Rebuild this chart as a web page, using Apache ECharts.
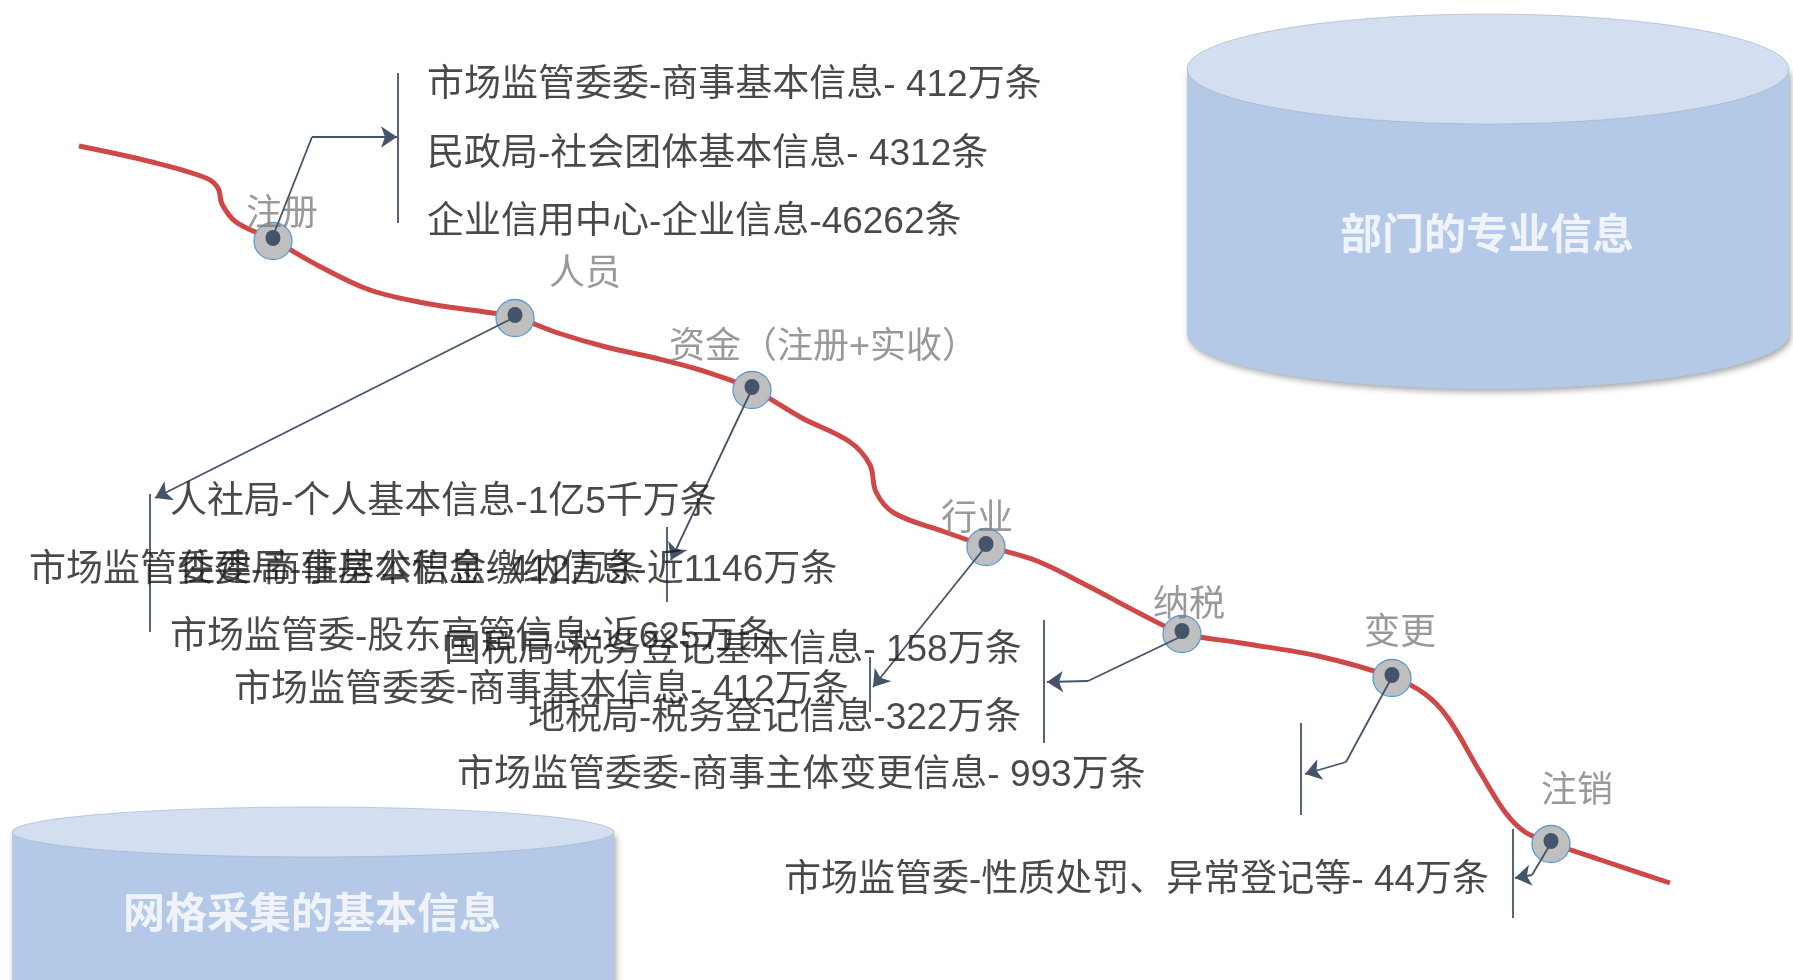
<!DOCTYPE html>
<html>
<head>
<meta charset="utf-8">
<script src="https://cdn.jsdelivr.net/npm/echarts@6/dist/echarts.min.js"></script>
<style>
html,body{margin:0;padding:0;background:#fff;}
#main{width:1793px;height:980px;}
</style>
</head>
<body>
<div id="main"></div>
<script>
// Red flow curve (diagram coordinates)
var curvePoints = [[79,146],[152,162],[206,178],[218,188],[222,204],[236,222],[273,240],[321,267],[370,290],[424,303],[485,312],[515,317],[558,333],[606,347],[655,358],[700,370],[752,389],[802,418],[850,442],[870,465],[876,492],[894,513],[945,532],[986,546],[1037,561],[1088,586],[1139,613],[1182,633],[1241,643],[1318,656],[1392,677],[1425,694],[1448,718],[1480,772],[1505,812],[1525,832],[1551,843],[1601,860],[1670,883]];

// Stage nodes on the curve
var nodeNames = ['注册','人员','资金（注册+实收）','行业','纳税','变更','注销'];
var nodePoints = [[273,238],[515,315],[752,387],[986,544],[1182,631],[1392,675],[1551,841]];
var nodeLabelPoints = [[246,215],[549,275],[669,348],[941,520],[1153,606],[1364,634],[1541,792]];

// Arrows from nodes to info blocks
var arrowPaths = [
  [[273,236],[312,137],[397,137]],
  [[515,317],[155,498]],
  [[752,389],[671,560]],
  [[986,546],[873,687]],
  [[1182,636],[1088,681],[1047,682]],
  [[1392,677],[1346,762],[1305,774]],
  [[1551,843],[1532,875],[1515,878]]
];
// Vertical brackets
var bracketLines = [
  [[398,73],[398,223]],
  [[150,494],[150,632]],
  [[667,527],[667,602]],
  [[870,657],[870,712]],
  [[1044,620],[1044,743]],
  [[1301,723],[1301,815]],
  [[1513,829],[1513,918]]
];

// Info text lines
var infoTexts = [
  '市场监管委委-商事基本信息- 412万条',
  '民政局-社会团体基本信息- 4312条',
  '企业信用中心-企业信息-46262条',
  '人社局-个人基本信息-1亿5千万条',
  '市场监管委委-商事基本信息- 412万条',
  '住建局-住房公积金缴纳信息-近1146万条',
  '市场监管委-股东高管信息-近625万条',
  '国税局-税务登记基本信息- 158万条',
  '市场监管委委-商事基本信息- 412万条',
  '地税局-税务登记信息-322万条',
  '市场监管委委-商事主体变更信息- 993万条',
  '市场监管委-性质处罚、异常登记等- 44万条'
];
var infoPoints = [[427,86],[427,155],[427,223],[170,503],[29,571],[178,571],[170,638],[444,651],[234,691],[528,719],[457,776],[784,881]];

// Database cylinders: centre x, top y, radius x, radius y, height
var cylinderNames = ['部门的专业信息','网格采集的基本信息'];
var cylinderGeom = [[1488,69,301,55,265],[313,832,301,25,200]];
var cylinderLabelPoints = [[1487,233],[312,912]];

var FONT = "'Liberation Sans','Noto Sans CJK SC',sans-serif";

var chart = echarts.init(document.getElementById('main'), null, {renderer:'canvas'});

var arrowSegs = [], arrowHeadSegs = [];
arrowPaths.forEach(function(p){
  for (var i=0;i<p.length-1;i++){
    if (i === p.length-2) arrowHeadSegs.push({coords:[p[i],p[i+1]]});
    else arrowSegs.push({coords:[p[i],p[i+1]]});
  }
});

var cylData = cylinderGeom.map(function(g,i){ return g.concat([i]); });

var option = {
  animation:false,
  backgroundColor:'#ffffff',
  grid:{left:0,right:0,top:0,bottom:0},
  xAxis:{type:'value',min:0,max:1793,show:false},
  yAxis:{type:'value',min:0,max:980,inverse:true,show:false},
  series:[
    {
      type:'custom',
      z:1,
      data:cylData,
      renderItem:function(params, api){
        var cx=api.value(0), cy=api.value(1), rx=api.value(2), ry=api.value(3), h=api.value(4);
        var p=api.coord([cx,cy]);
        var s=api.size([rx,ry]);
        var hh=api.size([0,h])[1];
        var l=p[0]-s[0], r=p[0]+s[0], t=p[1], b=p[1]+hh;
        var body='M'+l+' '+t+' L'+l+' '+b+' A'+s[0]+' '+s[1]+' 0 0 0 '+r+' '+b+' L'+r+' '+t+' Z';
        var top='M'+l+' '+t+' A'+s[0]+' '+s[1]+' 0 1 1 '+r+' '+t+' A'+s[0]+' '+s[1]+' 0 1 1 '+l+' '+t+' Z';
        return {type:'group',children:[
          {type:'path',shape:{pathData:body},style:{fill:'#b4c9e7',shadowBlur:6,shadowOffsetX:2,shadowOffsetY:3,shadowColor:'rgba(0,0,0,0.35)'}},
          {type:'path',shape:{pathData:top},style:{fill:'#d3dff0',stroke:'rgba(150,165,185,0.5)',lineWidth:1}}
        ]};
      }
    },
    {
      type:'scatter',
      z:2,
      symbolSize:0,
      data:cylinderLabelPoints.map(function(p,i){return {value:p,name:cylinderNames[i]};}),
      label:{show:true,position:'inside',formatter:'{b}',color:'#ffffff',fontSize:42,fontWeight:'bold',fontFamily:"'Noto Sans CJK SC',sans-serif"}
    },
    {
      type:'line',
      z:3,
      data:curvePoints,
      smooth:0.35,
      symbol:'none',
      lineStyle:{color:'#cf4848',width:5}
    },
    {
      type:'scatter',
      z:4,
      data:nodePoints,
      symbol:'circle',
      symbolSize:[38,37],
      symbolOffset:[0,3],
      itemStyle:{color:'#bfbfbf',borderColor:'#5b9bd5',borderWidth:1.3,opacity:1}
    },
    {
      type:'scatter',
      z:5,
      data:nodePoints,
      symbol:'circle',
      symbolSize:[15,16],
      itemStyle:{color:'#44546a',opacity:1}
    },
    {
      type:'scatter',
      z:6,
      symbolSize:0,
      data:nodeLabelPoints.map(function(p,i){return {value:p,name:nodeNames[i]};}),
      label:{show:true,position:'right',distance:0,formatter:'{b}',color:'#7f7f7f',fontSize:36,fontFamily:FONT}
    },
    {
      type:'lines',
      coordinateSystem:'cartesian2d',
      z:7,
      data:arrowSegs.concat(bracketLines.map(function(c){return {coords:c};})),
      symbol:['none','none'],
      lineStyle:{color:'#44546a',width:1.8,opacity:1}
    },
    {
      type:'lines',
      coordinateSystem:'cartesian2d',
      z:7,
      data:arrowHeadSegs,
      symbol:['none','arrow'],
      symbolSize:16,
      lineStyle:{color:'#44546a',width:1.8,opacity:1}
    },
    {
      type:'scatter',
      z:8,
      symbolSize:0,
      data:infoPoints.map(function(p,i){return {value:p,name:infoTexts[i]};}),
      label:{show:true,position:'right',distance:0,formatter:'{b}',color:'#1c1c1c',fontSize:37,fontFamily:FONT}
    }
  ]
};
chart.setOption(option);
</script>
</body>
</html>
